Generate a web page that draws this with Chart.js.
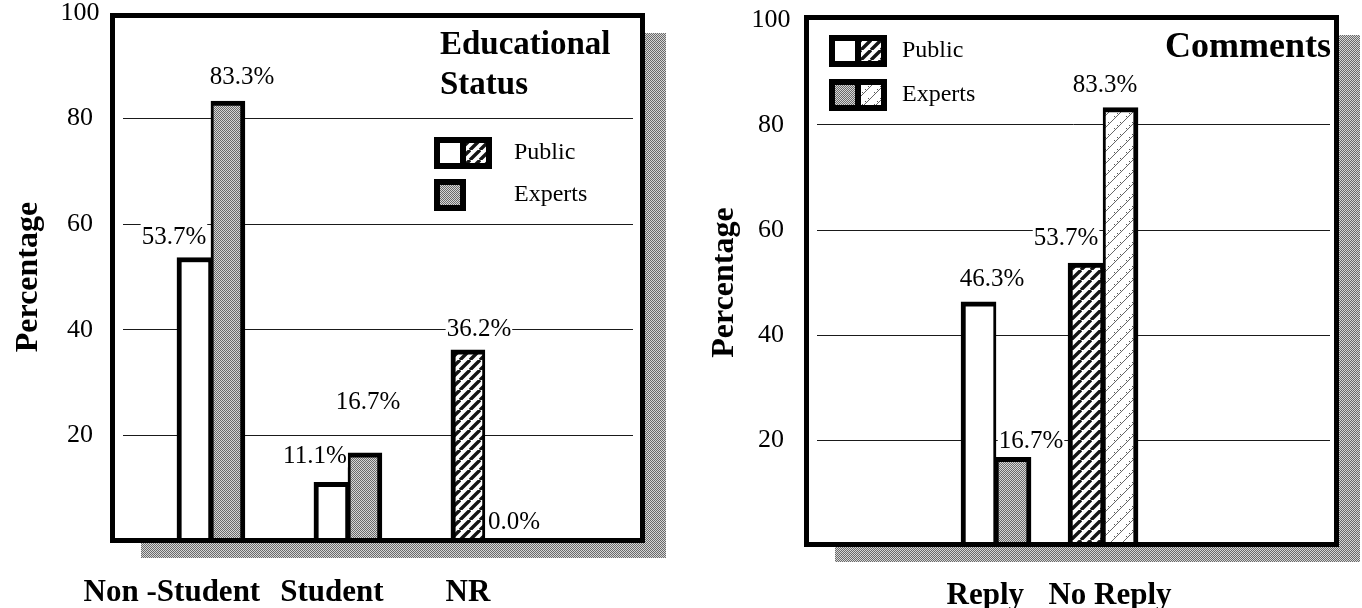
<!DOCTYPE html>
<html>
<head>
<meta charset="utf-8">
<title>Educational Status / Comments</title>
<script src="https://cdn.jsdelivr.net/npm/chart.js@4.4.1/dist/chart.umd.min.js"></script>
<style>
  html, body { margin: 0; padding: 0; background: #fff; }
  #wrap { position: relative; width: 1362px; height: 608px; overflow: hidden; }
  #wrap canvas { position: absolute; top: 0; }
  #eduChart { left: 0; }
  #cmtChart { left: 681px; }
</style>
</head>
<body>
<div id="wrap">
  <canvas id="eduChart" width="681" height="608"></canvas>
  <canvas id="cmtChart" width="681" height="608"></canvas>
</div>
<script>
// --- Data ---
const seriesNames = ['Public', 'Experts'];

const eduCategories = ['Non -Student', 'Student', 'NR'];
const eduPublic  = [53.7, 11.1, 36.2];
const eduExperts = [83.3, 16.7, 0.0];

const cmtCategories = ['Reply', 'No Reply'];
const cmtPublic  = [46.3, 53.7];
const cmtExperts = [16.7, 83.3];

const SERIF = '"Liberation Serif", "Times New Roman", Times, serif';

// --- Fill patterns ---
function makePattern(size, paint) {
    const c = document.createElement('canvas');
    c.width = c.height = size;
    const g = c.getContext('2d');
    paint(g, size);
    return g.createPattern(c, 'repeat');
}

// fine grey dither (experts bars, drop shadow)
const stipple = makePattern(2, (g) => {
    g.fillStyle = '#d6d6d6'; g.fillRect(0, 0, 2, 2);
    g.fillStyle = '#6a6a6a'; g.fillRect(0, 0, 1, 1); g.fillRect(1, 1, 1, 1);
});

// heavy "/" hatch
const boldHatch = makePattern(10, (g, s) => {
    g.fillStyle = '#fff'; g.fillRect(0, 0, s, s);
    g.strokeStyle = '#151515'; g.lineWidth = 3.4;
    g.beginPath();
    for (const o of [-s, 0, s]) { g.moveTo(o, s); g.lineTo(o + s, 0); }
    g.stroke();
});

// thin "/" hatch with little ticks
const lightHatch = makePattern(12, (g, s) => {
    g.fillStyle = '#fff'; g.fillRect(0, 0, s, s);
    g.strokeStyle = '#666'; g.lineWidth = 1;
    g.beginPath();
    for (const o of [-s, 0, s]) { g.moveTo(o, s); g.lineTo(o + s, 0); }
    g.stroke();
    g.fillStyle = '#555';
    for (let t = 1; t < s; t += 3) g.fillRect(t, s - t - 3, 1, 1);
});

// --- Frame, shadow, value labels, legend and heading ---
function panelPlugin(cfg) {
    function frameOf(a) {
        return { l: a.left + cfg.frame[0], t: a.top + cfg.frame[1],
                 r: a.right + cfg.frame[2], b: a.bottom + cfg.frame[3] };
    }
    return {
        id: 'panel',
        beforeDraw(chart) {
            const ctx = chart.ctx, f = frameOf(chart.chartArea);
            ctx.save();
            ctx.fillStyle = stipple;
            ctx.fillRect(f.l + 31, f.t + 20, (f.r + 21) - (f.l + 31), (f.b + 15) - (f.t + 20));
            ctx.fillStyle = '#fff';
            ctx.fillRect(f.l, f.t, f.r - f.l, f.b - f.t);
            ctx.restore();
        },
        afterDatasetsDraw(chart) {
            const ctx = chart.ctx, f = frameOf(chart.chartArea);
            ctx.save();

            // frame border
            ctx.strokeStyle = '#000';
            ctx.lineWidth = 5;
            ctx.strokeRect(f.l + 2.5, f.t + 2.5, f.r - f.l - 5, f.b - f.t - 5);

            // value labels
            ctx.font = '25px ' + SERIF;
            ctx.textAlign = 'center';
            ctx.textBaseline = 'middle';
            cfg.series.forEach((s, d) => {
                const meta = chart.getDatasetMeta(d);
                s.values.forEach((v, i) => {
                    const bar = meta.data[i];
                    const [dx, dy] = cfg.labelNudge[d][i];
                    const text = v.toFixed(1) + '%';
                    const x = bar.x + dx, y = bar.y + dy;
                    const w = ctx.measureText(text).width;
                    ctx.fillStyle = '#fff';
                    ctx.fillRect(x - w / 2 - 1, y - 13, w + 2, 24);
                    ctx.fillStyle = '#000';
                    ctx.fillText(text, x, y);
                });
            });

            // legend: one swatch cell per distinct fill of the series
            const lg = cfg.legend;
            cfg.series.forEach((s, d) => {
                const fills = [...new Set(s.fills)];
                const bx = lg.x, by = lg.y[d];
                const cell = 20, bw = 6, h = cell + bw * 2;
                const w = bw + fills.length * cell + (fills.length - 1) * bw + bw;
                ctx.fillStyle = '#000';
                ctx.fillRect(bx, by, w, h);
                fills.forEach((fill, k) => {
                    ctx.fillStyle = fill;
                    ctx.fillRect(bx + bw + k * (cell + bw), by + bw, cell, cell);
                });
                ctx.fillStyle = '#000';
                ctx.font = '24px ' + SERIF;
                ctx.textAlign = 'left';
                ctx.textBaseline = 'middle';
                ctx.fillText(s.name, lg.textX, by + h / 2);
            });

            // heading
            ctx.font = 'bold ' + cfg.heading.size + 'px ' + SERIF;
            ctx.textAlign = 'left';
            ctx.textBaseline = 'middle';
            cfg.heading.lines.forEach((line, k) => {
                ctx.fillText(line, cfg.heading.x, cfg.heading.y[k]);
            });
            ctx.restore();
        }
    };
}

function panelChart(canvasId, cfg) {
    const datasets = cfg.series.map((s, d) => ({
        label: s.name,
        data: s.values.map((v, i) => ({ x: i, y: v })),
        backgroundColor: s.fills,
        borderColor: '#000',
        borderWidth: d === 0 ? { top: 5, left: 5, right: 3, bottom: 0 }
                             : { top: 5, left: 3, right: 5, bottom: 0 },
        borderSkipped: 'start',
        barThickness: cfg.barThickness
    }));

    return new Chart(document.getElementById(canvasId), {
        type: 'bar',
        data: { datasets },
        plugins: [panelPlugin(cfg)],
        options: {
            responsive: false,
            animation: false,
            events: [],
            layout: { padding: { top: cfg.padTop, right: cfg.padRight, left: 0, bottom: 0 } },
            plugins: { legend: { display: false }, tooltip: { enabled: false } },
            scales: {
                x: {
                    type: 'linear',
                    offset: false,
                    min: cfg.xMin,
                    max: cfg.xMax,
                    grid: { display: false },
                    border: { display: false },
                    afterBuildTicks: (scale) => {
                        scale.ticks = cfg.categories.map((_, i) => ({ value: i + cfg.tickNudge[i] }));
                    },
                    afterFit: (scale) => {
                        scale.height = cfg.xAxisHeight;
                        scale.paddingLeft = scale.paddingRight = 0;
                    },
                    ticks: {
                        autoSkip: false,
                        maxRotation: 0,
                        padding: cfg.xTickPad,
                        color: '#000',
                        font: { family: SERIF, size: 31, weight: 'bold' },
                        callback: (v, i) => cfg.categories[i]
                    }
                },
                y: {
                    min: 0,
                    max: 100,
                    grid: {
                        drawTicks: false,
                        lineWidth: 1,
                        color: (c) => (c.tick && (c.tick.value === 0 || c.tick.value === 100))
                            ? 'rgba(0,0,0,0)' : '#1a1a1a'
                    },
                    border: { display: false },
                    afterFit: (scale) => {
                        scale.width = cfg.yAxisWidth;
                        scale.paddingTop = scale.paddingBottom = 0;
                    },
                    ticks: {
                        stepSize: 20,
                        padding: cfg.yTickPad,
                        crossAlign: 'center',
                        color: '#000',
                        font: { family: SERIF, size: 26, lineHeight: 1 },
                        callback: (v) => (v === 0 ? '' : String(v))
                    },
                    title: {
                        display: true,
                        text: 'Percentage',
                        color: '#000',
                        font: { family: SERIF, size: 32, weight: 'bold' },
                        padding: { top: cfg.yTitlePad, bottom: 0 }
                    }
                }
            }
        }
    });
}

// Educational status panel
panelChart('eduChart', {
    categories: eduCategories,
    series: [
        { name: seriesNames[0], values: eduPublic,  fills: ['#fff', '#fff', boldHatch] },
        { name: seriesNames[1], values: eduExperts, fills: [stipple, stipple, stipple] }
    ],
    xMin: -0.642, xMax: 3.081,
    barThickness: 34,
    yAxisWidth: 123, padTop: 13, padRight: 48, xAxisHeight: 67,
    yTickPad: 23.5, yTitlePad: 10, xTickPad: 25,
    tickNudge: [-0.285, -0.117, -0.124],
    frame: [-13, 0, 12, 2],
    labelNudge: [
        [[-20, -20.5], [-16, -26], [11, -20]],
        [[14, -24], [3, -50], [12, -19]]
    ],
    legend: { x: 434, y: [137, 179], textX: 514 },
    heading: { lines: ['Educational', 'Status'], x: 440, y: [45, 85], size: 33 }
});

// Comments panel
panelChart('cmtChart', {
    categories: cmtCategories,
    series: [
        { name: seriesNames[0], values: cmtPublic,  fills: ['#fff', boldHatch] },
        { name: seriesNames[1], values: cmtExperts, fills: [stipple, lightHatch] }
    ],
    xMin: -1.673, xMax: 3.121,
    barThickness: 35,
    yAxisWidth: 136, padTop: 20, padRight: 32, xAxisHeight: 63,
    yTickPad: 26.5, yTitlePad: 25, xTickPad: 24,
    tickNudge: [-0.10, 0.065],
    frame: [-13, -5, 9, 2],
    labelNudge: [
        [[13.5, -22], [-19.5, -25]],
        [[17.5, -16], [-15.5, -22]]
    ],
    legend: { x: 148, y: [35, 79], textX: 221 },
    heading: { lines: ['Comments'], x: 484, y: [48], size: 36 }
});
</script>
</body>
</html>
